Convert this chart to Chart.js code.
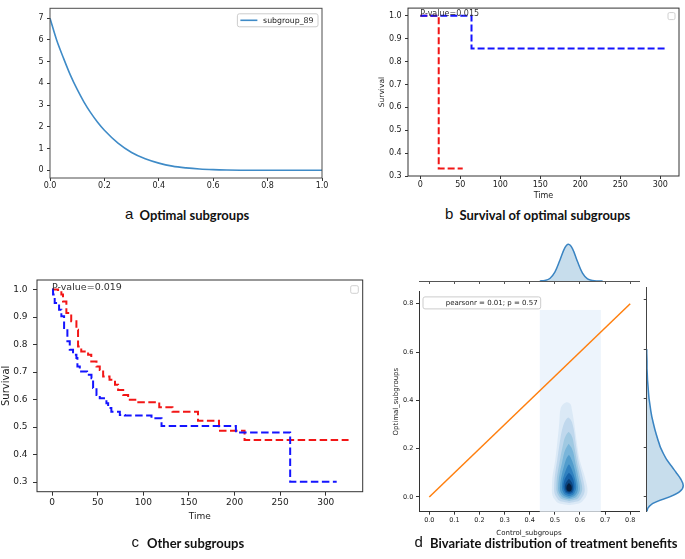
<!DOCTYPE html>
<html><head><meta charset="utf-8">
<script src="https://cdn.jsdelivr.net/npm/chart.js@4.4.1/dist/chart.umd.min.js"></script>
<style>
html,body{margin:0;padding:0;background:#fff;}
body{width:685px;height:559px;position:relative;overflow:hidden;}
canvas{position:absolute;}
.cl{position:absolute;font-family:'Liberation Sans',Arial,sans-serif;font-size:15px;line-height:18px;color:#111;white-space:nowrap;}
.ct{position:absolute;font-family:Lato,'Open Sans',sans-serif;font-weight:700;font-size:13px;line-height:18px;color:#111;white-space:nowrap;}
#cdr{transform:rotate(90deg);transform-origin:50% 50%;}
</style></head><body>
<canvas id="ca" width="340" height="200" style="left:0;top:0"></canvas>
<canvas id="cb" width="345" height="205" style="left:340px;top:0"></canvas>
<canvas id="cc" width="370" height="270" style="left:0;top:265px"></canvas>
<canvas id="cdt" width="262" height="50" style="left:380px;top:236px"></canvas>
<canvas id="cd" width="262" height="255" style="left:380px;top:285px"></canvas>
<canvas id="cdr" width="255" height="43" style="left:536px;top:391px"></canvas>

<span class="cl" style="left:125px;top:205px">a</span><span class="ct" style="left:139.5px;top:206px">Optimal subgroups</span>
<span class="cl" style="left:445px;top:205px">b</span><span class="ct" style="left:459.5px;top:206px">Survival of optimal subgroups</span>
<span class="cl" style="left:131.5px;top:533px">c</span><span class="ct" style="left:147px;top:534px">Other subgroups</span>
<span class="cl" style="left:414.5px;top:533px">d</span><span class="ct" style="left:430px;top:534px">Bivariate distribution of treatment benefits</span>

<script>
// ---------- Panel a: Optimal subgroups ----------
const xA = [0, 0.025, 0.05, 0.075, 0.1, 0.125, 0.15, 0.175, 0.2, 0.25, 0.3, 0.35, 0.4, 0.45, 0.5, 0.55, 0.6, 0.65, 0.7, 0.8, 0.9, 1.0];
const yA = [7.0, 5.97, 5.15, 4.38, 3.72, 3.14, 2.64, 2.21, 1.84, 1.25, 0.82, 0.53, 0.33, 0.19, 0.11, 0.058, 0.029, 0.013, 0.005, 0.0004, 0, 0];
const xTicksA = [0, 0.2, 0.4, 0.6, 0.8, 1.0];
const yTicksA = [0, 1, 2, 3, 4, 5, 6, 7];
const legendA = 'subgroup_89';

// ---------- Panel b: Survival of optimal subgroups ----------
const timeRedB = [0, 23, 53];
const survRedB = [1.0, 0.333, 0.333];
const timeBlueB = [0, 64, 308];
const survBlueB = [1.0, 0.857, 0.857];
const pValueB = 'P-value=0.015';

// ---------- Panel c: Other subgroups ----------
const timeRedC = [0, 6.6, 10.2, 12, 15.7, 21, 26.7, 28.5, 32, 39.5, 43, 48.7, 52.3, 56, 63, 69, 72.4, 78, 83.4, 92.6, 117.5, 132, 160, 183, 211, 325];
const survRedC = [1.0, 0.994, 0.982, 0.957, 0.915, 0.885, 0.854, 0.793, 0.775, 0.763, 0.739, 0.72, 0.708, 0.684, 0.672, 0.654, 0.635, 0.617, 0.599, 0.59, 0.572, 0.556, 0.523, 0.487, 0.453, 0.453];
const timeBlueC = [0, 1.1, 2.9, 7.7, 10.2, 13.2, 16.8, 19.4, 23, 26.7, 27.8, 30.4, 38.4, 43.2, 45, 48.7, 52.3, 59.6, 61.5, 65, 74.3, 79.8, 109, 120, 201.5, 261, 312];
const survBlueC = [1.0, 0.982, 0.951, 0.927, 0.903, 0.86, 0.812, 0.781, 0.763, 0.751, 0.72, 0.702, 0.69, 0.678, 0.642, 0.617, 0.605, 0.587, 0.569, 0.556, 0.544, 0.542, 0.532, 0.504, 0.48, 0.301, 0.301];
const pValueC = 'P-value=0.019';

const timeTicks = [0, 50, 100, 150, 200, 250, 300];
const survTicks = [0.3, 0.4, 0.5, 0.6, 0.7, 0.8, 0.9, 1.0];

// ---------- Panel d: Bivariate distribution ----------
const diagX = [0, 0.8];
const diagY = [0, 0.8];
const pearsonText = 'pearsonr = 0.01; p = 0.57';
const gridYRange = [-0.07, 0.775];
const gridXLeft = 0.44;
const gridXRight = 0.683;
// contour levels: [y, left x, right x]
const kde1 = [[-0.034,0.557,0.557],[-0.028,0.522,0.592],[-0.013,0.501,0.614],[0.027,0.488,0.630],[0.081,0.490,0.620],[0.149,0.501,0.600],[0.230,0.510,0.587],[0.312,0.518,0.576],[0.366,0.523,0.567],[0.386,0.535,0.561],[0.393,0.548,0.548]];
const kde2 = [[-0.025,0.557,0.557],[-0.019,0.527,0.588],[-0.005,0.509,0.606],[0.030,0.497,0.619],[0.080,0.499,0.611],[0.150,0.509,0.594],[0.230,0.520,0.582],[0.295,0.533,0.572],[0.322,0.545,0.562],[0.330,0.553,0.553]];
const kde3 = [[-0.017,0.557,0.557],[-0.011,0.532,0.583],[0.003,0.516,0.598],[0.035,0.506,0.609],[0.080,0.508,0.601],[0.140,0.518,0.589],[0.210,0.531,0.577],[0.258,0.545,0.565],[0.270,0.555,0.555]];
const kde4 = [[-0.010,0.557,0.557],[-0.004,0.536,0.578],[0.008,0.522,0.591],[0.035,0.513,0.600],[0.080,0.516,0.594],[0.140,0.528,0.582],[0.200,0.543,0.568],[0.220,0.555,0.555]];
const kde5 = [[-0.004,0.557,0.557],[0.002,0.540,0.574],[0.012,0.528,0.585],[0.038,0.520,0.592],[0.080,0.525,0.586],[0.130,0.537,0.575],[0.165,0.549,0.562],[0.175,0.556,0.556]];
const kde6 = [[0.003,0.557,0.557],[0.008,0.543,0.571],[0.018,0.534,0.579],[0.040,0.528,0.585],[0.075,0.532,0.580],[0.110,0.543,0.569],[0.128,0.551,0.561],[0.135,0.556,0.556]];
const kde7 = [[0.010,0.557,0.557],[0.015,0.546,0.568],[0.024,0.539,0.574],[0.042,0.534,0.578],[0.070,0.538,0.574],[0.092,0.549,0.564],[0.100,0.556,0.556]];
const kde8 = [[0.017,0.557,0.557],[0.021,0.548,0.566],[0.030,0.542,0.571],[0.044,0.540,0.572],[0.062,0.546,0.566],[0.075,0.556,0.556]];
const kde9 = [[0.022,0.557,0.557],[0.026,0.550,0.564],[0.036,0.546,0.567],[0.048,0.548,0.565],[0.058,0.556,0.556]];
// marginal densities
const margXVals = [0.44, 0.46, 0.48, 0.50, 0.52, 0.54, 0.554, 0.57, 0.59, 0.61, 0.63, 0.65, 0.67, 0.69];
const margXDens = [0.02, 0.17, 0.89, 3.1, 7.3, 11.7, 12.9, 11.4, 6.85, 2.8, 0.77, 0.14, 0.02, 0];
const margYVals = [-0.06, -0.045, -0.03, -0.015, 0.0, 0.02, 0.045, 0.07, 0.1, 0.13, 0.16, 0.2, 0.25, 0.3, 0.35, 0.4, 0.45, 0.5, 0.55, 0.6];
const margYDens = [0.01, 0.04, 0.14, 0.36, 0.64, 0.9, 1.0, 0.94, 0.8, 0.65, 0.51, 0.38, 0.27, 0.18, 0.11, 0.065, 0.035, 0.015, 0.005, 0];
const ctrlTicks = [0, 0.1, 0.2, 0.3, 0.4, 0.5, 0.6, 0.7, 0.8];
const optTicks = [0, 0.2, 0.4, 0.6, 0.8];

// ---------- styles ----------
const kdeLevels = [kde9, kde8, kde7, kde6, kde5, kde4, kde3, kde2, kde1];
const kdeColors = ['#061e3e','#0b447f','#1662a8','#2f80bf','#519ccc','#79b5da','#a0c9e2','#c0d8ed','#dbe9f6'];

Chart.defaults.font.family = "'DejaVu Sans', sans-serif";
Chart.defaults.color = '#1a1a1a';
Chart.defaults.animation = false;
Chart.defaults.plugins.legend.display = false;
Chart.defaults.plugins.tooltip.enabled = false;
Chart.defaults.elements.point.radius = 0;
Chart.defaults.elements.point.hoverRadius = 0;

function pts(xs, ys) { return xs.map((x, i) => ({x: x, y: ys[i]})); }

function axis(o) {
  return {
    type: 'linear', min: o.min, max: o.max, display: o.display !== false, reverse: !!o.reverse,
    afterBuildTicks: o.ticks ? (s => { s.ticks = o.ticks.map(v => ({value: v})); }) : undefined,
    afterFit: s => { if (o.size !== undefined) { if (o.horiz) s.height = o.size; else s.width = o.size; } },
    grid: {display: o.grid !== false, drawOnChartArea: false, drawTicks: true, tickLength: o.tl ?? 3, color: o.tickColor || '#333', lineWidth: 1},
    border: {display: !!o.border, color: o.tickColor || '#333', width: 1},
    ticks: {display: o.labels !== false, autoSkip: false, maxRotation: 0, minRotation: 0, padding: o.pad ?? 3,
            font: {size: o.fs || 8}, color: '#1a1a1a', callback: v => Number(v).toFixed(o.dec ?? 0)},
    title: o.title ? {display: true, text: o.title, font: {size: o.tfs || o.fs}, padding: 0, color: '#1a1a1a'} : {display: false}
  };
}

const decor = {
  id: 'decor',
  afterDatasetsDraw(chart, args, o) {
    const ctx = chart.ctx, a = chart.chartArea;
    ctx.save();
    if (o.box) {
      ctx.strokeStyle = o.boxColor || '#333'; ctx.lineWidth = 1;
      ctx.strokeRect(a.left, a.top, a.right - a.left, a.bottom - a.top);
    }
    if (o.note) {
      const n = o.note;
      ctx.font = n.size + "px 'DejaVu Sans', sans-serif";
      ctx.fillStyle = '#333'; ctx.textAlign = 'left'; ctx.textBaseline = 'alphabetic';
      ctx.fillText(n.text, chart.scales.x.getPixelForValue(n.x), chart.scales.y.getPixelForValue(n.y));
    }
    if (o.emptyBox) {
      const e = o.emptyBox;
      ctx.strokeStyle = '#d0d0d0'; ctx.fillStyle = '#fff'; ctx.lineWidth = 1;
      ctx.beginPath();
      ctx.roundRect(a.right - e.dx - e.size, a.top + e.dy, e.size, e.size, 1.5);
      ctx.fill(); ctx.stroke();
    }
    if (o.legend) {
      const L = o.legend;
      ctx.font = L.size + "px 'DejaVu Sans', sans-serif";
      const tw = ctx.measureText(L.text).width;
      const w = L.padL + L.len + L.gap + tw + L.padR;
      const x0 = L.align === 'right' ? a.right - L.dx - w : a.left + L.dx;
      const y0 = a.top + L.dy;
      ctx.beginPath();
      ctx.roundRect(x0, y0, w, L.h, 2);
      ctx.fillStyle = 'rgba(255,255,255,0.85)'; ctx.fill();
      ctx.strokeStyle = '#cccccc'; ctx.lineWidth = 1; ctx.stroke();
      if (L.len > 0) {
        ctx.strokeStyle = L.color; ctx.lineWidth = L.lw;
        ctx.beginPath(); ctx.moveTo(x0 + L.padL, y0 + L.h / 2); ctx.lineTo(x0 + L.padL + L.len, y0 + L.h / 2); ctx.stroke();
      }
      ctx.fillStyle = '#222'; ctx.textAlign = 'left'; ctx.textBaseline = 'middle';
      ctx.fillText(L.text, x0 + L.padL + L.len + L.gap, y0 + L.h / 2 + 0.5);
    }
    ctx.restore();
  }
};

const base = {responsive: false, devicePixelRatio: 1, animation: false};

// Panel a
new Chart(document.getElementById('ca'), {
  type: 'line',
  data: {datasets: [{label: legendA, data: pts(xA, yA), borderColor: '#3f8bc7', borderWidth: 1.6, cubicInterpolationMode: 'monotone', fill: false}]},
  options: Object.assign({}, base, {
    layout: {padding: {left: 0, top: 1.5, right: 18, bottom: 0}},
    scales: {
      x: axis({min: 0, max: 1, ticks: xTicksA, dec: 1, fs: 8, size: 22, horiz: true, pad: 0.5}),
      y: axis({min: -0.355, max: 7.455, ticks: yTicksA, dec: 0, fs: 8, size: 50, pad: 3.5})
    },
    plugins: {decor: {box: true, boxColor: '#4d4d4d',
      legend: {text: legendA, align: 'right', dx: 4, dy: 5.5, h: 13, padL: 3, len: 17, gap: 5.7, padR: 4.5, size: 7.8, color: '#3f8bc7', lw: 1.6}}}
  }),
  plugins: [decor]
});

// Panel b
new Chart(document.getElementById('cb'), {
  type: 'line',
  data: {datasets: [
    {label: 'optimal', data: pts(timeBlueB, survBlueB), borderColor: '#1414ff', borderWidth: 2, borderDash: [7, 3], stepped: 'before', fill: false},
    {label: 'control', data: pts(timeRedB, survRedB), borderColor: '#f21616', borderWidth: 2, borderDash: [7, 3], stepped: 'before', fill: false}
  ]},
  options: Object.assign({}, base, {
    layout: {padding: {left: 37.2, top: 1.5, right: 6, bottom: 3.9}},
    scales: {
      x: axis({min: -15.4, max: 323.4, ticks: timeTicks, dec: 0, fs: 8, size: 25.1, horiz: true, pad: 1.2, title: 'Time', tfs: 8}),
      y: axis({min: 0.3, max: 1.0335, ticks: survTicks, dec: 1, fs: 8, size: 30.8, pad: 3.3, title: 'Survival', tfs: 7.5})
    },
    plugins: {decor: {box: true, boxColor: '#333',
      note: {text: pValueB, x: 0, y: 1.0, size: 8},
      emptyBox: {dx: 4, dy: 4.5, size: 7}}}
  }),
  plugins: [decor]
});

// Panel c
new Chart(document.getElementById('cc'), {
  type: 'line',
  data: {datasets: [
    {label: 'other', data: pts(timeBlueC, survBlueC), borderColor: '#1414ff', borderWidth: 2, borderDash: [7.5, 3.5], stepped: 'before', fill: false},
    {label: 'control', data: pts(timeRedC, survRedC), borderColor: '#f21616', borderWidth: 2, borderDash: [7.5, 3.5], stepped: 'before', fill: false}
  ]},
  options: Object.assign({}, base, {
    layout: {padding: {left: 0, top: 15, right: 7.3, bottom: 13}},
    scales: {
      x: axis({min: -16.5, max: 340.5, ticks: timeTicks, dec: 0, fs: 9, size: 30.3, horiz: true, tl: 4, pad: 2, title: 'Time', tfs: 9}),
      y: axis({min: 0.265, max: 1.035, ticks: survTicks, dec: 1, fs: 9, size: 37, tl: 4, pad: 5.5, title: 'Survival', tfs: 10})
    },
    plugins: {decor: {box: true, boxColor: '#333',
      note: {text: pValueC, x: 0, y: 1.0, size: 9.5},
      emptyBox: {dx: 4.4, dy: 5.7, size: 7.6}}}
  }),
  plugins: [decor]
});

// Panel d main
const dsD = [{label: 'diagonal', data: pts(diagX, diagY), borderColor: '#ff7f0e', borderWidth: 1.5, fill: false}];
kdeLevels.forEach((lv, i) => {
  dsD.push({label: 'kde' + i + 'L', data: lv.map(r => ({x: r[1], y: r[0]})), borderWidth: 0, borderColor: 'rgba(0,0,0,0)', cubicInterpolationMode: 'monotone', fill: false});
  dsD.push({label: 'kde' + i + 'R', data: lv.map(r => ({x: r[2], y: r[0]})), borderWidth: 0, borderColor: 'rgba(0,0,0,0)', backgroundColor: kdeColors[i], cubicInterpolationMode: 'monotone', fill: '-1'});
});
dsD.push({label: 'gridL', data: gridYRange.map(y => ({x: gridXLeft, y: y})), borderWidth: 0, borderColor: 'rgba(0,0,0,0)', fill: false});
dsD.push({label: 'gridR', data: gridYRange.map(y => ({x: gridXRight, y: y})), borderWidth: 0, borderColor: 'rgba(0,0,0,0)', backgroundColor: '#edf4fc', fill: '-1'});

new Chart(document.getElementById('cd'), {
  type: 'line',
  data: {datasets: dsD},
  options: Object.assign({}, base, {
    indexAxis: 'y',
    layout: {padding: {left: 11.8, top: 2.7, right: 3, bottom: 2.8}},
    scales: {
      x: axis({min: -0.041, max: 0.835, ticks: ctrlTicks, dec: 1, fs: 6.5, size: 25.5, horiz: true, pad: 2.2, title: 'Control_subgroups', tfs: 7, border: true}),
      y: axis({min: -0.061, max: 0.85, ticks: optTicks, dec: 1, fs: 6.5, size: 27.2, pad: 2.7, title: 'Optimal_subgroups', tfs: 7, border: true})
    },
    plugins: {decor: {legend: {text: pearsonText, align: 'left', dx: 4, dy: 5.3, h: 12, padL: 22.7, len: 0, gap: 0, padR: 3, size: 7}}}
  }),
  plugins: [decor]
});

// Panel d top marginal
new Chart(document.getElementById('cdt'), {
  type: 'line',
  data: {datasets: [{label: 'Control_subgroups density', data: pts(margXVals, margXDens), borderColor: '#3a84c2', borderWidth: 1.5, backgroundColor: 'rgba(31,119,180,0.25)', fill: 'origin', tension: 0.35}]},
  options: Object.assign({}, base, {
    layout: {padding: {left: 39, top: 6, right: 3, bottom: 0}},
    scales: {
      x: axis({min: -0.041, max: 0.835, ticks: ctrlTicks, labels: false, size: 5, horiz: true, border: true, tickColor: '#555'}),
      y: axis({min: 0, max: 13.7, display: false})
    }
  })
});

// Panel d right marginal: drawn along a reversed horizontal axis, canvas turned 90deg so the axis runs vertically
new Chart(document.getElementById('cdr'), {
  type: 'line',
  data: {datasets: [{label: 'Optimal_subgroups density', data: pts(margYVals, margYDens), borderColor: '#3a84c2', borderWidth: 1.5, backgroundColor: 'rgba(31,119,180,0.25)', fill: 'origin', cubicInterpolationMode: 'monotone'}]},
  options: Object.assign({}, base, {
    layout: {padding: {left: 2.7, top: 0, right: 28.3, bottom: 0}},
    scales: {
      x: axis({min: -0.061, max: 0.85, reverse: true, ticks: optTicks, labels: false, size: 4.7, horiz: true, border: true, tickColor: '#444'}),
      y: axis({min: 0, max: 1.05, display: false})
    }
  })
});
</script>
</body></html>
